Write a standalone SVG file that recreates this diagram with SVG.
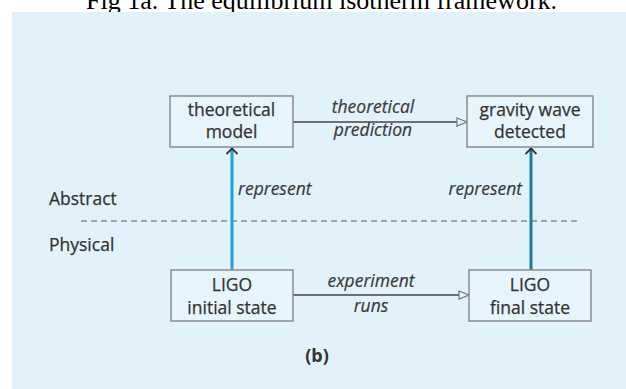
<svg xmlns="http://www.w3.org/2000/svg" width="626" height="389" viewBox="0 0 626 389">
<defs>
<style>
.box{fill:#e6f4fb;stroke:#8c8c8c;stroke-width:1.5}
.t{font-family:"Open Sans","Noto Sans",sans-serif;font-size:17.5px;fill:#333;text-anchor:middle;stroke:#333;stroke-width:0.25}
.lbl{font-family:"Open Sans","Noto Sans",sans-serif;font-size:17.5px;font-style:italic;fill:#3a3a3a;stroke:#3a3a3a;stroke-width:0.2}
.side{font-family:"Open Sans","Noto Sans",sans-serif;font-size:17.5px;fill:#333;stroke:#333;stroke-width:0.25}
.h{stroke:#444;stroke-width:1.5;fill:none}
</style>
<marker id="open" markerWidth="12" markerHeight="10" refX="11" refY="5" orient="auto" markerUnits="userSpaceOnUse">
<path d="M1,1 L11,5 L1,9 Z" fill="#e6f4fb" stroke="#777" stroke-width="1.2"/>
</marker>
</defs>
<rect x="0" y="0" width="626" height="389" fill="#ffffff"/>
<text x="86" y="8.5" font-family="'Liberation Serif',serif" font-size="26" fill="#000">Fig 1a. The equilibrium isotherm framework.</text>
<rect x="12" y="12" width="614" height="377" fill="#e1f2fb"/>

<g id="layers">
<text class="side" x="49" y="205">Abstract</text>
<text class="side" x="49" y="251">Physical</text>
<line x1="81" y1="221" x2="580" y2="221" stroke="#8a8a8a" stroke-width="1.3" stroke-dasharray="6 4"/>
</g>

<g id="connectors">
<line class="h" x1="293" y1="122" x2="467" y2="122" marker-end="url(#open)"/>
<line class="h" x1="293" y1="295" x2="469" y2="295" marker-end="url(#open)"/>
<line x1="232" y1="270" x2="232" y2="148" stroke="#1ba3dd" stroke-width="3"/>
<line x1="531" y1="270" x2="531" y2="148" stroke="#1b7aa2" stroke-width="3"/>
<path d="M226.5,154 L232,148.5 L237.5,154" fill="none" stroke="#333" stroke-width="1.8"/>
<path d="M525.5,154 L531,148.5 L536.5,154" fill="none" stroke="#333" stroke-width="1.8"/>
<text class="lbl" x="373" y="113" text-anchor="middle">theoretical</text>
<text class="lbl" x="373" y="136" text-anchor="middle">prediction</text>
<text class="lbl" x="371" y="287" text-anchor="middle">experiment</text>
<text class="lbl" x="371" y="312" text-anchor="middle">runs</text>
<text class="lbl" x="238" y="195">represent</text>
<text class="lbl" x="522" y="195" text-anchor="end">represent</text>
</g>

<g id="theoretical-model">
<rect class="box" x="170" y="96" width="123" height="51"/>
<text class="t" x="231.5" y="116">theoretical</text>
<text class="t" x="231.5" y="138">model</text>
</g>
<g id="gravity-wave-detected">
<rect class="box" x="467" y="96" width="126" height="51"/>
<text class="t" x="530" y="116">gravity wave</text>
<text class="t" x="530" y="138">detected</text>
</g>
<g id="ligo-initial">
<rect class="box" x="171" y="270" width="122" height="51"/>
<text class="t" x="232" y="291">LIGO</text>
<text class="t" x="232" y="313.5">initial state</text>
</g>
<g id="ligo-final">
<rect class="box" x="469" y="270" width="122" height="51"/>
<text class="t" x="530" y="291">LIGO</text>
<text class="t" x="530" y="313.5">final state</text>
</g>
<text x="317" y="362" font-family="'Open Sans','Noto Sans',sans-serif" font-size="18" font-weight="bold" fill="#333" text-anchor="middle">(b)</text>
</svg>
